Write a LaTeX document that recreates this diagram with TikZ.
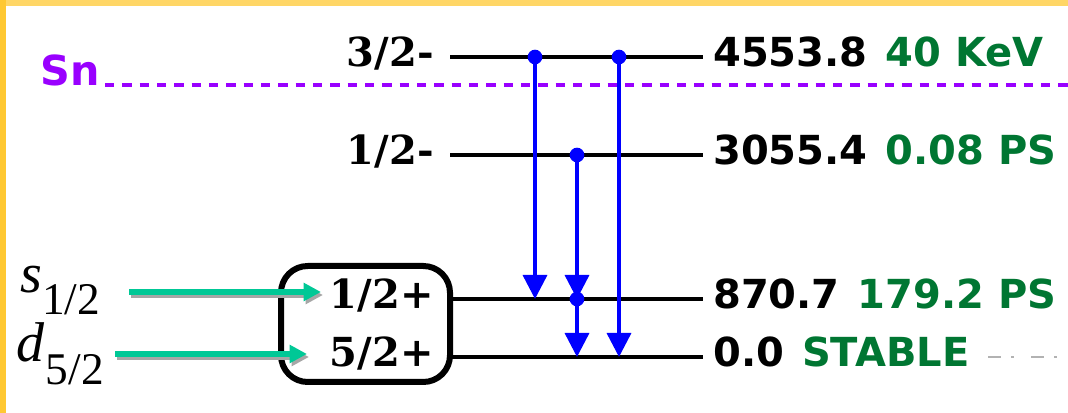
\documentclass[tikz,border=0pt]{standalone}
\usepackage{fontspec}
\usepackage{tikz}
\usetikzlibrary{arrows.meta}
\newfontfamily\levelsans{DejaVu Sans}
\newfontfamily\levelserif{DejaVu Serif}
\newfontfamily\orbitserif{Liberation Serif}
\definecolor{snpurple}{RGB}{153,0,255}
\definecolor{lifegreen}{RGB}{0,118,50}
\definecolor{feedgreen}{RGB}{0,200,150}
\definecolor{frametop}{RGB}{255,214,102}
\definecolor{frameleft}{RGB}{255,200,50}

\begin{document}
\begin{tikzpicture}[x=0.75pt, y=-0.75pt,
	level/.style={line width=2.6pt, black},
	spin/.style={anchor=base east, inner sep=0pt, font=\levelserif\bfseries\fontsize{30}{30}\selectfont},
	energy/.style={anchor=base west, inner sep=0pt, font=\levelsans\bfseries\fontsize{30}{30}\selectfont},
	gamma/.style={blue, line width=2.6pt, -{Triangle[width=18pt,length=18pt]}},
	feed/.style={feedgreen, line width=3.8pt, -{Triangle[width=13pt,length=13pt]}},
	feedshadow/.style={feed, gray!70},
	orbit/.style={anchor=base west, inner sep=0pt, font=\orbitserif\fontsize{42}{42}\selectfont}]
				% Frame
				\useasboundingbox (0,0) rectangle (1068,413);
				\fill[white] (0,0) rectangle (1068,413);
				\fill[frametop] (0,0) rectangle (1068,6);
				\fill[frameleft] (0,0) rectangle (6,413);
				% Neutron threshold
				\node[anchor=base west, inner sep=0pt, text=snpurple, font=\levelsans\bfseries\fontsize{31}{31}\selectfont] (sn) at (40,86) {Sn};
				\coordinate (sn-start) at (105,85);
				\coordinate (sn-end) at (1068,85);
				\draw[snpurple, line width=3.6pt, dash pattern=on 7pt off 6pt] (sn-start) -- (sn-end);
				% Levels
				\foreach \lv/\y/\jp/\ener/\life in {a/57/{3/2-}/4553.8/{40 KeV}, b/155/{1/2-}/3055.4/{0.08 PS}, c/299/{1/2+}/870.7/{179.2 PS}, d/357/{5/2+}/0.0/STABLE} {
					\coordinate (\lv-l) at (450,\y);
					\coordinate (\lv-r) at (703,\y);
					\draw[level] (\lv-l) -- (\lv-r);
					\node[spin] (\lv-spin) at (434,\y+10) {\jp};
					\node[energy] (\lv-en) at (713,\y+10) {\ener\hspace{0.45em}\textcolor{lifegreen}{\life}};
				}
				\coordinate (tail-start) at (988,357);
				\coordinate (tail-end) at (1068,357);
				\draw[gray!60, line width=1.5pt, dash pattern=on 9.75pt off 7.5pt on 2.25pt off 12.75pt] (tail-start) -- (tail-end);
				% Gamma transitions
				\foreach \x/\from/\to in {535/a/c, 577/b/c, 577/c/d, 619/a/d} {
					\draw[gamma] (\x,0 |- \from-l) -- (\x,0 |- \to-l);
					\fill[blue] (\x,0 |- \from-l) circle (5.5pt);
				}
				% Ground band box
				\draw[line width=4.5pt, rounded corners=20pt] (281,266) rectangle (450,382);
				% Orbitals
				\node[orbit] (s-orb) at (20,293) {\textit{s}\raisebox{-16pt}{\fontsize{34}{34}\selectfont 1/2}};
				\node[orbit] (d-orb) at (16,362) {\textit{d}\kern1pt\raisebox{-17pt}{\fontsize{34}{34}\selectfont 5/2}};
				\coordinate (s-in) at (129,292);
				\coordinate (s-out) at (321,292);
				\coordinate (d-in) at (115,354);
				\coordinate (d-out) at (307,354);
				\foreach \o in {s,d} {
					\draw[feedshadow] ([shift={(2,3)}]\o-in) -- ([shift={(2,3)}]\o-out);
					\draw[feed] (\o-in) -- (\o-out);
				}
\end{tikzpicture}
\end{document}
